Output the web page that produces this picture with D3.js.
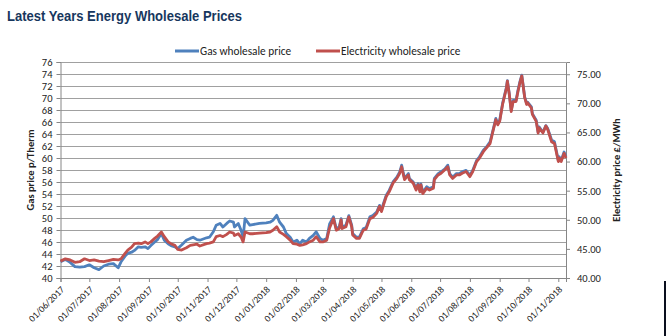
<!DOCTYPE html>
<html><head><meta charset="utf-8">
<script src="https://cdn.jsdelivr.net/npm/d3@7"></script>
<style>
body{margin:0;background:#fff;}
svg{display:block;}
text{font-family:Carlito,Lato,sans-serif;fill:#222;}
</style></head><body>
<svg id="c" width="666" height="336"></svg>
<script>
const title = "Latest Years Energy Wholesale Prices";
const seriesNames = ["Gas wholesale price", "Electricity wholesale price"];
const leftTitle = "Gas price p/Therm";
const rightTitle = "Electricity price £/MWh";
const leftTicks = [40,42,44,46,48,50,52,54,56,58,60,62,64,66,68,70,72,74,76];
const rightTicks = [40,45,50,55,60,65,70,75];
const monthTicks = ["2017-06-01","2017-07-01","2017-08-01","2017-09-01","2017-10-01","2017-11-01","2017-12-01",
  "2018-01-01","2018-02-01","2018-03-01","2018-04-01","2018-05-01","2018-06-01","2018-07-01","2018-08-01",
  "2018-09-01","2018-10-01","2018-11-01"];

const dates = ["2017-06-01","2017-06-06","2017-06-11","2017-06-16","2017-06-21","2017-06-26","2017-07-01","2017-07-06",
"2017-07-11","2017-07-16","2017-07-21","2017-07-26","2017-07-31","2017-08-03","2017-08-07","2017-08-10","2017-08-14",
"2017-08-17","2017-08-21","2017-08-24","2017-08-28","2017-08-31","2017-09-03","2017-09-07","2017-09-10","2017-09-14",
"2017-09-17","2017-09-21","2017-09-24","2017-09-28","2017-10-01","2017-10-05","2017-10-10","2017-10-14","2017-10-17",
"2017-10-21","2017-10-24","2017-10-31","2017-11-03","2017-11-07","2017-11-10","2017-11-14","2017-11-17","2017-11-21",
"2017-11-24","2017-11-28","2017-11-29","2017-12-03","2017-12-06","2017-12-08","2017-12-10","2017-12-15","2017-12-18",
"2017-12-25","2018-01-01","2018-01-05","2018-01-08","2018-01-12","2018-01-15","2018-01-19","2018-01-22","2018-01-26",
"2018-01-29","2018-02-02","2018-02-05","2018-02-08","2018-02-12","2018-02-15","2018-02-19","2018-02-22","2018-02-26",
"2018-03-01","2018-03-05","2018-03-08","2018-03-12","2018-03-15","2018-03-18","2018-03-20","2018-03-21","2018-03-25",
"2018-03-28","2018-03-31","2018-04-01","2018-04-05","2018-04-08","2018-04-12","2018-04-15","2018-04-19","2018-04-22",
"2018-04-26","2018-04-29","2018-05-01","2018-05-03","2018-05-06","2018-05-09","2018-05-13","2018-05-17","2018-05-20",
"2018-05-22","2018-05-23","2018-05-25","2018-05-29","2018-05-30","2018-06-03","2018-06-06","2018-06-08","2018-06-10",
"2018-06-11","2018-06-13","2018-06-17","2018-06-20","2018-06-24","2018-06-25","2018-06-29","2018-07-02","2018-07-06",
"2018-07-09","2018-07-11","2018-07-14","2018-07-18","2018-07-21","2018-07-24","2018-07-28","2018-08-01","2018-08-04",
"2018-08-08","2018-08-11","2018-08-15","2018-08-18","2018-08-22","2018-08-25","2018-08-28","2018-08-30","2018-09-01",
"2018-09-04","2018-09-08","2018-09-09","2018-09-11","2018-09-13","2018-09-15","2018-09-18","2018-09-20","2018-09-22",
"2018-09-24","2018-09-27","2018-09-29","2018-09-30","2018-10-04","2018-10-05","2018-10-09","2018-10-11","2018-10-12",
"2018-10-16","2018-10-19","2018-10-21","2018-10-25","2018-10-28","2018-11-01","2018-11-02","2018-11-04","2018-11-07",
"2018-11-09"];

const gas = [42.7,43.1,42.6,41.9,41.8,41.9,42.2,41.7,41.4,42.0,42.3,42.4,41.7,42.7,43.6,44.1,44.3,44.6,45.2,45.1,45.2,44.9,
45.4,46.0,46.4,47.4,46.3,45.7,45.4,45.2,44.9,45.5,46.3,46.6,46.8,46.4,46.3,46.7,46.8,47.7,48.8,49.1,48.5,49.1,49.5,49.3,
48.5,49.1,47.9,46.8,49.9,48.8,48.9,49.1,49.2,49.3,49.6,50.45,49.3,48.5,47.4,46.8,46.0,46.3,45.7,46.3,46.0,46.6,47.1,47.7,
46.6,46.3,46.6,49.0,50.2,48.2,48.5,49.9,48.5,48.8,50.4,48.8,47.4,46.8,46.8,48.2,48.4,50.2,50.4,51.0,52.1,51.3,52.4,53.8,
54.6,56.0,56.8,57.7,58.8,58.0,56.6,57.4,56.6,56.0,54.9,55.7,54.6,55.7,54.3,55.2,54.9,55.2,56.6,57.4,57.7,58.2,58.8,57.4,
56.8,57.4,57.4,57.7,57.95,57.1,57.95,59.6,60.2,61.3,61.8,62.7,64.6,66.6,65.7,66.3,69.1,71.8,72.9,70.7,67.9,69.6,69.6,71.3,
72.7,73.8,70.2,69.1,69.3,68.5,67.4,66.3,64.3,65.2,64.3,65.4,64.9,63.0,62.7,59.6,60.2,59.6,61.0,60.2];

const elec = [42.9,43.3,43.1,42.7,42.8,43.3,43.0,43.1,42.9,42.8,43.0,43.2,43.1,43.3,44.2,44.8,45.3,45.9,46.0,45.9,46.2,45.9,
46.2,46.8,47.2,47.9,47.1,46.2,45.9,45.6,44.9,44.8,45.2,45.6,45.7,45.8,45.5,45.9,46.0,46.2,47.1,47.3,47.1,47.5,47.9,47.7,
47.3,47.6,47.0,46.2,47.9,47.6,47.6,47.7,47.8,47.9,48.2,48.8,47.9,47.5,47.1,46.5,45.9,45.8,45.6,45.7,45.9,46.2,46.5,47.1,
46.2,46.2,46.5,48.6,50.2,48.2,48.5,50.0,48.5,48.8,50.5,48.8,47.4,46.8,46.8,48.2,48.4,50.2,50.4,51.1,52.3,51.4,52.5,54.0,
54.8,56.3,57.1,58.0,59.1,58.3,56.9,57.7,56.9,56.3,55.1,56.0,54.8,56.0,54.5,55.4,55.1,55.4,56.9,57.7,58.0,58.6,59.1,57.7,
57.1,57.7,57.7,58.0,58.3,57.4,58.3,60.0,60.6,61.7,62.3,63.1,65.2,67.2,66.3,66.9,69.8,72.6,73.8,71.5,68.6,70.3,70.3,72.0,
73.5,74.7,71.0,69.8,70.1,69.2,68.1,66.9,64.9,65.8,64.9,66.1,65.5,63.4,63.1,60.0,60.6,60.0,61.4,60.6];

const colors = ["#4f81bd", "#c0504d"];

const svg = d3.select("#c");
const parse = d3.timeParse("%Y-%m-%d");
const L = 60.5, R = 566, T = 62, B = 278;

const x = d3.scaleTime().domain([parse("2017-06-01"), parse("2018-11-09")]).range([L, R]);
const yL = d3.scaleLinear().domain([40, 76]).range([B, T]);
const yR = d3.scaleLinear().domain([40, 77.1]).range([B, T]);

// title
svg.append("text").attr("x", 7).attr("y", 21).text(title)
  .attr("textLength", 235).attr("lengthAdjust", "spacingAndGlyphs")
  .style("font-family", "'Liberation Sans Narrow','Arial Narrow','Liberation Sans',sans-serif")
  .style("font-weight", "bold").style("font-size", "15px").style("fill", "#17375e");

// gridlines
svg.append("g").selectAll("line").data(leftTicks).join("line")
  .attr("x1", L).attr("x2", R).attr("y1", d => Math.round(yL(d)) + 0.5).attr("y2", d => Math.round(yL(d)) + 0.5)
  .attr("stroke", "#a0a0a0").attr("stroke-width", 1);

// left axis
const gL = svg.append("g").attr("transform", `translate(${L},0)`)
  .call(d3.axisLeft(yL).tickValues(leftTicks).tickSize(4).tickPadding(4).tickFormat(d3.format("d")));
gL.selectAll("text").style("font-size", "10.5px").style("fill", "#222");
gL.selectAll("line,path").attr("stroke", "#868686");

// right axis
const gR = svg.append("g").attr("transform", `translate(${R},0)`)
  .call(d3.axisRight(yR).tickValues(rightTicks).tickSize(4).tickPadding(7).tickFormat(d3.format(".2f")));
gR.selectAll("text").style("font-size", "10.5px").style("fill", "#222");
gR.selectAll("line,path").attr("stroke", "#868686");

// x axis
const gX = svg.append("g").attr("transform", `translate(0,${B})`)
  .call(d3.axisBottom(x).tickValues(monthTicks.map(parse)).tickSize(4).tickFormat(d3.timeFormat("%d/%m/%Y")));
gX.selectAll("line,path").attr("stroke", "#868686");
gX.selectAll("text").style("font-size", "9.5px").style("fill", "#222")
  .attr("text-anchor", "end").attr("y", 0).attr("dy", "0")
  .attr("transform", d => `translate(4,12) rotate(-45)`);

// lines
const pts = dates.map((d, i) => ({d: parse(d), g: gas[i], e: elec[i]}));
const lineG = d3.line().x(p => x(p.d)).y(p => yL(p.g));
const lineE = d3.line().x(p => x(p.d)).y(p => yR(p.e));
svg.append("path").datum(pts).attr("d", lineG).attr("fill", "none")
  .attr("stroke", colors[0]).attr("stroke-width", 2.8).attr("stroke-linejoin", "round");
svg.append("path").datum(pts).attr("d", lineE).attr("fill", "none")
  .attr("stroke", colors[1]).attr("stroke-width", 2.8).attr("stroke-linejoin", "round");

// legend
const legX = [175, 316];
seriesNames.forEach((n, i) => {
  svg.append("line").attr("x1", legX[i]).attr("x2", legX[i] + 24).attr("y1", 51).attr("y2", 51)
    .attr("stroke", colors[i]).attr("stroke-width", 3);
  svg.append("text").attr("x", legX[i] + 25).attr("y", 55).text(n).style("font-size", "11.3px");
});

// axis titles
svg.append("text").attr("transform", "translate(34,170) rotate(-90)").attr("text-anchor", "middle")
  .text(leftTitle).style("font-size", "10.5px").style("font-weight", "bold");
svg.append("text").attr("transform", "translate(620,170) rotate(-90)").attr("text-anchor", "middle")
  .text(rightTitle).style("font-size", "10.5px").style("font-weight", "bold");

// black edge bar bottom-right
svg.append("rect").attr("x", 664).attr("y", 281).attr("width", 2).attr("height", 55).attr("fill", "#0a0f1e");
</script></body></html>
